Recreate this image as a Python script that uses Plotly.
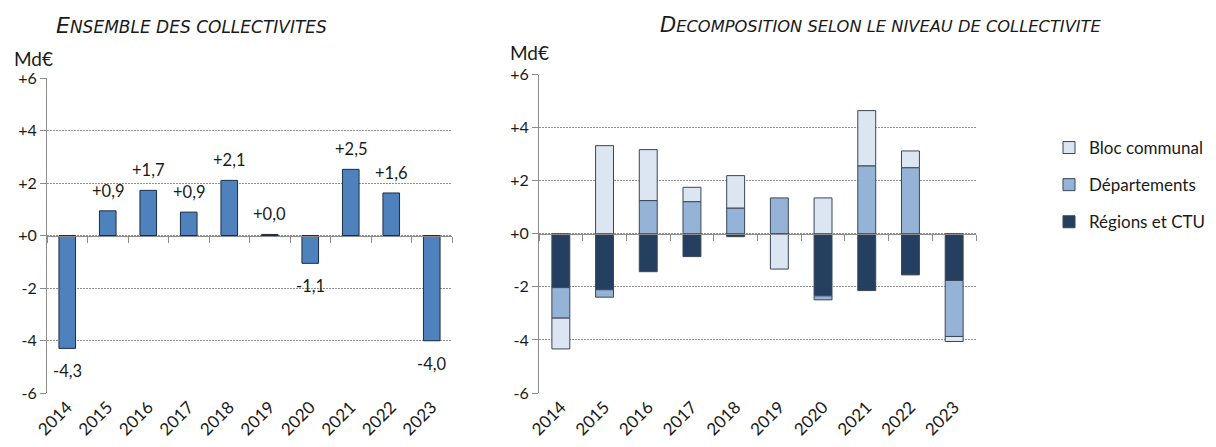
import plotly.graph_objects as go

years = ["2014", "2015", "2016", "2017", "2018", "2019", "2020", "2021", "2022", "2023"]

# Left panel: total change, Md€
total = [-4.30, 0.94, 1.72, 0.89, 2.10, 0.04, -1.06, 2.52, 1.62, -4.01]

# Right panel: breakdown by level
regions = [-2.03, -2.11, -1.43, -0.86, -0.11, 0.0, -2.34, -2.14, -1.55, -1.76]
departements = [-1.15, -0.28, 1.25, 1.21, 0.97, 1.35, -0.15, 2.56, 2.49, -2.11]
bloc = [-1.16, 3.32, 1.92, 0.54, 1.22, -1.33, 1.35, 2.08, 0.63, -0.19]

y_ticks = [-6, -4, -2, 0, 2, 4, 6]
y_ticktext = [f"{t:+d}" for t in y_ticks]

FONT = "Lato, Calibri, Carlito, sans-serif"
TITLE_FONT = "DejaVu Sans, sans-serif"
TXT = "#1a1a1a"
AXIS = "#8c8c8c"
W, H = 1216, 447
OFF = 8  # page body margin shifts the figure by this many pixels


def px(x):
    return (x - OFF) / W


def py(y):
    return 1 - (y - OFF) / H


fig = go.Figure()

# left bars
fig.add_trace(go.Bar(
    x=years, y=total, xaxis="x", yaxis="y",
    marker=dict(color="#4f81bd", line=dict(color="#1c2c44", width=1)),
    showlegend=False, hoverinfo="skip",
))

# right stacked bars (legend shows Bloc communal first)
series = [
    ("Régions et CTU", regions, "#243f60", 3),
    ("Départements", departements, "#95b3d7", 2),
    ("Bloc communal", bloc, "#dce6f2", 1),
]
for name, vals, col, rank in series:
    fig.add_trace(go.Bar(
        x=years, y=vals, name=name, xaxis="x2", yaxis="y2",
        marker=dict(color=col, line=dict(color="#3b4656", width=1)),
        legendgroup=name, legendrank=rank, hoverinfo="skip",
    ))

# value labels on the left panel (x given as category index)
for i, v in enumerate(total):
    lbl = f"{v:+.1f}".replace(".", ",")
    fig.add_annotation(
        x=i, y=v, xref="x", yref="y", text=lbl, showarrow=False,
        yanchor="middle", yshift=20 if v >= 0 else -23,
        font=dict(family=FONT, size=16.5, color=TXT),
    )

n = len(years)
left_dom = [px(47), px(452)]
right_dom = [px(539), px(976)]
left_y = [py(393), py(78)]
right_y = [py(393), py(74.5)]

yax = dict(
    range=[-6, 6], tickvals=y_ticks, ticktext=y_ticktext,
    showgrid=True, gridcolor="#8f8f8f", griddash="2px,1px", gridwidth=1,
    zeroline=False, showline=True, linecolor=AXIS, linewidth=1,
    ticks="outside", ticklen=6, tickcolor=AXIS,
    tickfont=dict(family=FONT, size=16, color=TXT),
    automargin=False, fixedrange=True,
)
xax = dict(
    type="category", range=[-0.5, n - 0.5], showline=False, ticks="",
    showgrid=False, tickangle=-45, automargin=False,
    tickfont=dict(family=FONT, size=17, color=TXT),
)
# zero line axis with boundary ticks
bounds = [i - 0.5 for i in range(n + 1)]
zax = dict(
    range=[-0.5, n - 0.5], tickvals=bounds, showticklabels=False,
    showline=True, linecolor=AXIS, linewidth=1, ticks="outside",
    ticklen=6, tickcolor=AXIS, showgrid=False, zeroline=False,
    anchor="free", automargin=False,
)

fig.update_layout(
    width=W, height=H,
    margin=dict(l=0, r=0, t=0, b=0, autoexpand=False),
    paper_bgcolor="white", plot_bgcolor="white",
    barmode="relative", bargap=0.59,
    font=dict(family=FONT, size=16, color=TXT),
    xaxis=dict(xax, domain=left_dom, anchor="y"),
    yaxis=dict(yax, domain=left_y, anchor="x"),
    xaxis2=dict(xax, domain=right_dom, anchor="y2"),
    yaxis2=dict(yax, domain=right_y, anchor="x2"),
    xaxis3=dict(zax, domain=left_dom, overlaying="x",
                position=(left_y[0] + left_y[1]) / 2),
    xaxis4=dict(zax, domain=right_dom, overlaying="x2",
                position=(right_y[0] + right_y[1]) / 2),
    legend=dict(
        x=px(1049), y=py(130), xanchor="left", yanchor="top",
        traceorder="grouped", tracegroupgap=12,
        font=dict(family=FONT, size=17, color=TXT),
        itemwidth=30, bgcolor="rgba(0,0,0,0)",
    ),
)

# invisible traces so the zero-line axes render
fig.add_trace(go.Scatter(x=[None], y=[None], xaxis="x3", yaxis="y",
                         showlegend=False, hoverinfo="skip"))
fig.add_trace(go.Scatter(x=[None], y=[None], xaxis="x4", yaxis="y2",
                         showlegend=False, hoverinfo="skip"))

# panel titles in small caps style
fig.add_annotation(
    x=px(54), y=py(25), xref="paper", yref="paper", showarrow=False,
    text="<i><span style='font-size:22px'>E</span>NSEMBLE DES COLLECTIVITES</i>",
    xanchor="left", yanchor="middle",
    font=dict(family=TITLE_FONT, size=17, color=TXT),
)
fig.add_annotation(
    x=px(658), y=py(25), xref="paper", yref="paper", showarrow=False,
    text="<i><span style='font-size:21px'>D</span>ECOMPOSITION SELON LE NIVEAU DE COLLECTIVITE</i>",
    xanchor="left", yanchor="middle",
    font=dict(family=TITLE_FONT, size=16.3, color=TXT),
)

fig.add_annotation(x=px(12), y=py(59), xref="paper", yref="paper",
                   text="Md€", showarrow=False, xanchor="left", yanchor="middle",
                   font=dict(family=FONT, size=19, color=TXT))
fig.add_annotation(x=px(508), y=py(53), xref="paper", yref="paper",
                   text="Md€", showarrow=False, xanchor="left", yanchor="middle",
                   font=dict(family=FONT, size=19, color=TXT))

fig.write_html("out.html")
